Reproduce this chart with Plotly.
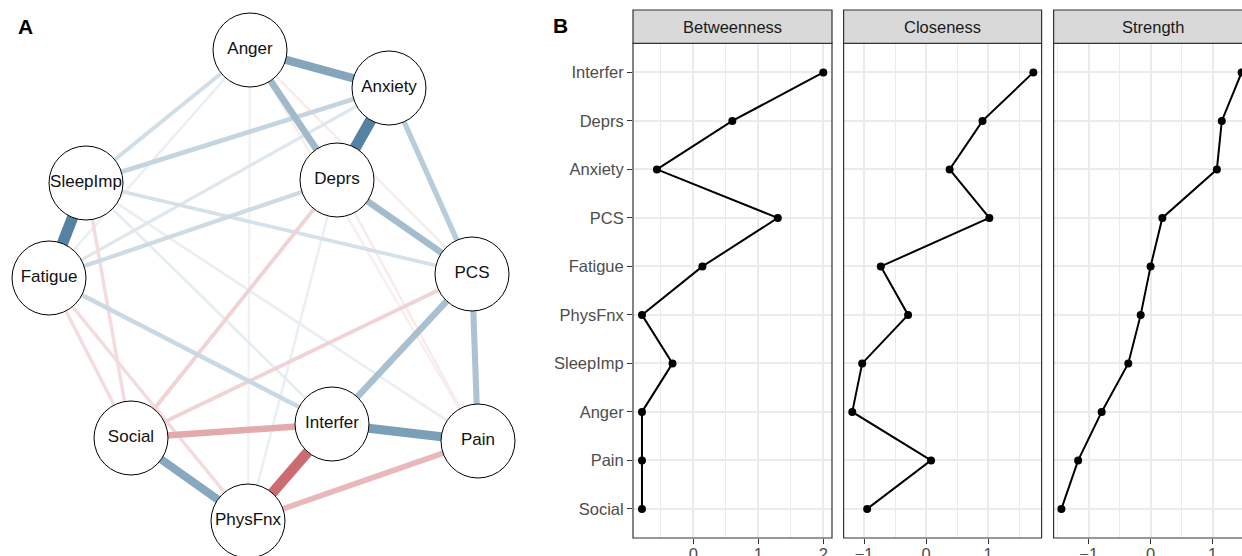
import plotly.graph_objects as go

# ---------------- Panel A: partial-correlation network ----------------
nodes = ["Anger", "Anxiety", "SleepImp", "Deprs", "Fatigue",
         "PCS", "Social", "Interfer", "Pain", "PhysFnx"]
# network layout coordinates (layout units)
node_x = [250, 389, 86, 337, 49, 472, 131, 332, 478, 248]
node_y = [50, 88, 183, 180, 278, 274, 438, 424, 441, 521]

edge_from = ["Anxiety", "SleepImp", "Interfer", "Anger", "Social", "Anger", "Deprs",
             "PCS", "PCS", "Anxiety", "Anxiety", "Fatigue", "Deprs", "Anger",
             "SleepImp", "Anxiety", "SleepImp", "Anger", "Deprs", "SleepImp", "Anger",
             "Interfer", "Social", "PhysFnx", "PCS", "Deprs", "SleepImp", "Fatigue",
             "Fatigue", "Anger", "Deprs", "Anger"]
edge_to = ["Deprs", "Fatigue", "Pain", "Anxiety", "PhysFnx", "Deprs", "PCS",
           "Interfer", "Pain", "PCS", "SleepImp", "Interfer", "Fatigue", "SleepImp",
           "PCS", "Fatigue", "Interfer", "PhysFnx", "PhysFnx", "Pain", "Fatigue",
           "PhysFnx", "Interfer", "Pain", "Social", "Social", "Social", "Social",
           "PhysFnx", "PCS", "Pain", "Pain"]
edge_weight = [0.40, 0.40, 0.30, 0.28, 0.27, 0.21, 0.20,
               0.19, 0.18, 0.15, 0.12, 0.11, 0.10, 0.09,
               0.08, 0.06, 0.04, 0.02, 0.03, 0.035, 0.03,
               -0.36, -0.20, -0.16, -0.09, -0.09, -0.07, -0.07,
               -0.07, -0.03, -0.03, -0.025]

# ---------------- Panel B: centrality indices (z-scores) ----------------
measures = ["Betweenness", "Closeness", "Strength"]
variables = ["Interfer", "Deprs", "Anxiety", "PCS", "Fatigue",
             "PhysFnx", "SleepImp", "Anger", "Pain", "Social"]
betweenness = [2.00, 0.60, -0.56, 1.30, 0.14, -0.79, -0.32, -0.79, -0.79, -0.79]
closeness = [1.73, 0.91, 0.38, 1.02, -0.73, -0.29, -1.03, -1.19, 0.08, -0.95]
strength = [1.47, 1.15, 1.07, 0.19, 0.00, -0.16, -0.36, -0.79, -1.17, -1.44]

W, H = 1242, 556
FONT = "Liberation Sans, Arial, Helvetica, sans-serif"

fig = go.Figure()

# ---- edges ----
pos = {n: (x, y) for n, x, y in zip(nodes, node_x, node_y)}
max_w = max(abs(w) for w in edge_weight)


def edge_style(w):
    r = min(abs(w) / max_w, 1.0)
    a = 0.05 + 0.90 * r
    base = (74, 123, 157) if w > 0 else (196, 84, 90)
    col = tuple(int(round(255 - a * (255 - c))) for c in base)
    return "rgb(%d,%d,%d)" % col, 1.8 + 9.5 * r


order = sorted(range(len(edge_weight)), key=lambda i: abs(edge_weight[i]))
for i in order:
    a, b, w = edge_from[i], edge_to[i], edge_weight[i]
    col, lw = edge_style(w)
    fig.add_trace(go.Scatter(
        x=[pos[a][0], pos[b][0]], y=[pos[a][1], pos[b][1]],
        mode="lines", line=dict(color=col, width=lw),
        hoverinfo="skip", showlegend=False, xaxis="x", yaxis="y"))

# ---- nodes ----
fig.add_trace(go.Scatter(
    x=node_x, y=node_y, mode="markers+text", text=nodes,
    textposition="middle center",
    textfont=dict(family=FONT, size=17, color="#111111"),
    marker=dict(size=74, color="white", line=dict(color="black", width=1)),
    hoverinfo="text", showlegend=False, xaxis="x", yaxis="y", cliponaxis=False))

# ---- centrality panels ----
series = [betweenness, closeness, strength]
panel_px = [(633.0, 832.0), (843.6, 1041.6), (1053.6, 1252.6)]
xranges = [[-0.928, 2.134], [-1.33, 1.863], [-1.566, 1.476]]
y_top_px, y_bot_px = 43.3, 538.0
ydom = [(H - y_bot_px) / H, (H - y_top_px) / H]
cat_order = list(reversed(variables))

for k, (m, vals) in enumerate(zip(measures, series)):
    ax = k + 2
    fig.add_trace(go.Scatter(
        x=vals, y=variables, mode="lines+markers",
        line=dict(color="black", width=2),
        marker=dict(color="black", size=8),
        cliponaxis=False, showlegend=False, name=m,
        xaxis="x%d" % ax, yaxis="y%d" % ax))
    x0, x1 = panel_px[k]
    dom_x1 = min(x1, W) / W
    fig.update_layout(**{
        "xaxis%d" % ax: dict(
            domain=[x0 / W, dom_x1], range=xranges[k], anchor="y%d" % ax,
            tickmode="linear", tick0=0, dtick=1, automargin=False,
            showgrid=True, gridcolor="#EBEBEB", gridwidth=1.6,
            minor=dict(dtick=0.5, tick0=0, showgrid=True,
                       gridcolor="#EBEBEB", gridwidth=1.0),
            ticks="outside", ticklen=5, tickwidth=1, tickcolor="#333333",
            ticklabelstandoff=-4,
            tickfont=dict(family=FONT, size=16.5, color="#4D4D4D"),
            zeroline=False, showline=False, fixedrange=True),
        "yaxis%d" % ax: dict(
            domain=ydom, type="category", categoryorder="array",
            categoryarray=cat_order, range=[-0.6, 9.6], anchor="x%d" % ax,
            automargin=False,
            showgrid=True, gridcolor="#EBEBEB", gridwidth=1.6,
            ticks="outside" if k == 0 else "", ticklen=5, tickwidth=1,
            tickcolor="#333333", showticklabels=(k == 0),
            tickfont=dict(family=FONT, size=16.5, color="#4D4D4D"),
            zeroline=False, showline=False, fixedrange=True),
    })

shapes = []
annotations = []
for k, m in enumerate(measures):
    x0, x1 = panel_px[k]
    # panel border
    shapes.append(dict(type="rect", xref="paper", yref="paper",
                       x0=x0 / W, x1=x1 / W, y0=ydom[0], y1=ydom[1],
                       line=dict(color="#333333", width=1.2),
                       fillcolor="rgba(0,0,0,0)", layer="above"))
    # facet strip
    shapes.append(dict(type="rect", xref="paper", yref="paper",
                       x0=x0 / W, x1=x1 / W, y0=ydom[1], y1=(H - 10.0) / H,
                       line=dict(color="#333333", width=1.2),
                       fillcolor="#D9D9D9", layer="above"))
    annotations.append(dict(text=m, xref="paper", yref="paper",
                            x=(x0 + x1) / 2 / W, y=(H - 26.8) / H,
                            xanchor="center", yanchor="middle", showarrow=False,
                            font=dict(family=FONT, size=16.5, color="#1A1A1A")))

annotations.append(dict(text="<b>A</b>", xref="paper", yref="paper",
                        x=25.5 / W, y=(H - 26.5) / H, xanchor="center",
                        yanchor="middle", showarrow=False,
                        font=dict(family=FONT, size=21, color="black")))
annotations.append(dict(text="<b>B</b>", xref="paper", yref="paper",
                        x=560.5 / W, y=(H - 25.5) / H, xanchor="center",
                        yanchor="middle", showarrow=False,
                        font=dict(family=FONT, size=21, color="black")))

fig.update_layout(
    width=W, height=H, margin=dict(l=0, r=0, t=0, b=0, autoexpand=False),
    paper_bgcolor="white", plot_bgcolor="white",
    font=dict(family=FONT),
    xaxis=dict(domain=[0, 540 / W], range=[0, 540], visible=False,
               fixedrange=True, automargin=False),
    yaxis=dict(domain=[0, 1], range=[H, 0], visible=False, fixedrange=True,
               automargin=False),
    shapes=shapes, annotations=annotations, showlegend=False,
)

fig.write_html(
    "out.html",
    config={"displayModeBar": False},
    post_script="document.body.style.margin='0';document.body.style.overflow='hidden';",
)
